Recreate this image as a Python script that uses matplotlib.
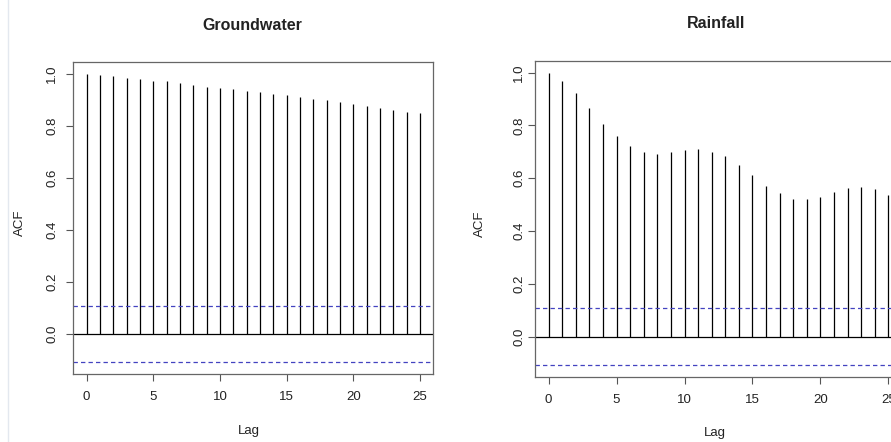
import numpy as np
import matplotlib
matplotlib.use('Agg')
import matplotlib.pyplot as plt
from matplotlib.lines import Line2D

plt.rcParams['font.family'] = ['Liberation Sans', 'DejaVu Sans']

# ACF values, lags 0..25
lags = list(range(26))
gw_acf = [1.000, 0.994, 0.990, 0.983, 0.981, 0.974, 0.971, 0.965, 0.958, 0.951,
          0.946, 0.940, 0.933, 0.930, 0.923, 0.917, 0.910, 0.904, 0.898, 0.890,
          0.882, 0.876, 0.870, 0.862, 0.855, 0.848]
rain_acf = [1.000, 0.970, 0.923, 0.865, 0.806, 0.759, 0.722, 0.699, 0.691, 0.699,
            0.705, 0.709, 0.701, 0.684, 0.651, 0.613, 0.571, 0.543, 0.523, 0.520,
            0.529, 0.546, 0.562, 0.565, 0.558, 0.537]
gw_conf = 0.108
rain_conf = 0.108
titles = ['Groundwater', 'Rainfall']
yticks = [0.0, 0.2, 0.4, 0.6, 0.8, 1.0]
xticks = [0, 5, 10, 15, 20, 25]

W, H = 891, 442
fig = plt.figure(figsize=(W / 100, H / 100), dpi=100)

def px(l, t, r, b):
    # pixel box -> figure fraction rect
    return [l / W, (H - b) / H, (r - l) / W, (b - t) / H]

def acf_panel(rect, acf, conf, ypad, xpad):
    ax = fig.add_axes(rect)
    ax.vlines(lags, 0, acf, color='black', lw=0.9)
    ax.axhline(0, color='black', lw=0.9)
    for c in (conf, -conf):
        ax.axhline(c, color='#4343c0', lw=0.9, ls=(0, (3.5, 2.5)))
    ax.set_xlim(-1, 26)
    ax.set_ylim(-0.153, 1.044)
    ax.set_xticks(xticks)
    ax.set_yticks(yticks)
    ax.set_yticklabels([f'{v:.1f}' for v in yticks], rotation=90, va='center')
    ax.tick_params(axis='y', direction='out', length=5, width=0.8,
                   color='#555555', labelsize=9.5, pad=ypad, labelcolor='#222222')
    ax.tick_params(axis='x', direction='out', length=5, width=0.8,
                   color='#555555', labelsize=9.5, pad=xpad, labelcolor='#222222')
    for s in ax.spines.values():
        s.set_color('#666666')
        s.set_linewidth(0.9)
    return ax

acf_panel(px(73.3, 62.3, 433.3, 374), gw_acf, gw_conf, 6, 7.5)
acf_panel(px(535, 61, 902, 377), rain_acf, rain_conf, 2, 7)

def ftext(x, y, s, **kw):
    fig.text(x / W, 1 - y / H, s, ha='center', va='center', color='#222222', **kw)

ftext(252, 26, titles[0], fontsize=11.5, fontweight='bold')
ftext(716, 24, titles[1], fontsize=11.5, fontweight='bold')
ftext(20, 223, 'ACF', fontsize=9.5, rotation=90)
ftext(480, 224, 'ACF', fontsize=9.5, rotation=90)
ftext(249, 431, 'Lag', fontsize=9.5)
ftext(715, 433, 'Lag', fontsize=9.5)

# faint page border at the far left of the screenshot
fig.add_artist(Line2D([8 / W, 8 / W], [0, 1], transform=fig.transFigure,
                      color='#e3e8ef', lw=1))

fig.savefig('out.png', dpi=100)
